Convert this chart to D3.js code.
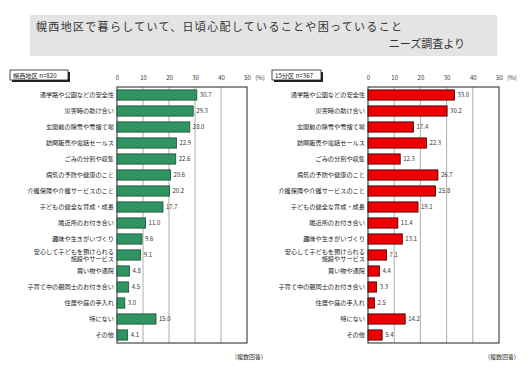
<!DOCTYPE html>
<html>
<head>
<meta charset="utf-8">
<script src="https://cdn.jsdelivr.net/npm/d3@7"></script>
<style>
  body { margin: 0; background: #fff; }
  svg text { font-family: "Noto Sans CJK JP", sans-serif; }
</style>
</head>
<body>
<div id="chart"></div>
<script>
// categories (same for both panels)
var categories = [
  '通学路や公園などの安全性',
  '災害時の助け合い',
  '玄関前の除雪や雪捨て場',
  '訪問販売や電話セールス',
  'ごみの分別や収集',
  '病気の予防や健康のこと',
  '介護保険や介護サービスのこと',
  '子どもの健全な育成・成長',
  '隣近所のお付き合い',
  '趣味や生きがいづくり',
  '安心して子どもを預けられる\n施設やサービス',
  '買い物や通院',
  '子育て中の親同士のお付き合い',
  '住居や庭の手入れ',
  '特にない',
  'その他'
];
var valuesArea = [30.7, 29.3, 28.0, 22.9, 22.6, 20.6, 20.2, 17.7, 11.0, 9.6, 9.1, 4.8, 4.5, 3.0, 15.0, 4.1];
var valuesWard = [33.0, 30.2, 17.4, 22.3, 12.3, 26.7, 25.8, 19.1, 11.4, 13.1, 7.1, 4.4, 3.3, 2.5, 14.2, 5.4];
var ticks = [0, 10, 20, 30, 40, 50];

var width = 530, height = 374;

var svg = d3.select('#chart').append('svg')
    .attr('width', width)
    .attr('height', height);

// title box
svg.append('rect')
    .attr('x', 30).attr('y', 15)
    .attr('width', 467).attr('height', 41)
    .attr('fill', '#e4e4e4');

svg.append('text')
    .attr('x', 36).attr('y', 31)
    .attr('font-size', 11)
    .attr('fill', '#333')
    .attr('textLength', 366)
    .attr('lengthAdjust', 'spacing')
    .text('幌西地区で暮らしていて、日頃心配していることや困っていること');

svg.append('text')
    .attr('x', 465).attr('y', 48)
    .attr('font-size', 11)
    .attr('fill', '#333')
    .attr('text-anchor', 'end')
    .text('ニーズ調査より');

function panel(opt) {
  var x = d3.scaleLinear().domain([0, 50]).range([opt.x0, opt.x1]);
  var y = d3.scaleBand().domain(d3.range(categories.length))
      .range([87, 343]).paddingInner(0.36).paddingOuter(0.18);

  var g = svg.append('g');

  // gridlines
  g.selectAll('.grid')
    .data([10, 20, 30, 40])
    .enter().append('line')
    .attr('x1', d => x(d)).attr('x2', d => x(d))
    .attr('y1', 87).attr('y2', 343)
    .attr('stroke', '#999').attr('stroke-width', 0.8);

  // frame
  g.append('rect')
    .attr('x', x(0)).attr('y', 87)
    .attr('width', x(50) - x(0)).attr('height', 256)
    .attr('fill', 'none').attr('stroke', '#222').attr('stroke-width', 1);

  // axis on top
  var axis = d3.axisTop(x).tickValues(ticks).tickSize(0).tickPadding(0);
  var ag = g.append('g').attr('transform', 'translate(0,80)').call(axis);
  ag.select('.domain').remove();
  ag.selectAll('text').attr('font-size', 6).attr('fill', '#333')
    .style('font-family', '"Noto Sans CJK JP", sans-serif');

  g.append('text')
    .attr('x', x(50) + 13).attr('y', 80)
    .attr('font-size', 6).attr('fill', '#333')
    .attr('text-anchor', 'middle')
    .text('(%)');

  // bars
  g.selectAll('.bar')
    .data(opt.values)
    .enter().append('rect')
    .attr('x', x(0))
    .attr('y', (d, i) => y(i))
    .attr('width', d => x(d) - x(0))
    .attr('height', y.bandwidth())
    .attr('fill', opt.fill)
    .attr('stroke', opt.stroke)
    .attr('stroke-width', 0.8);

  // value labels
  g.selectAll('.val')
    .data(opt.values)
    .enter().append('text')
    .attr('x', d => x(d) + 3)
    .attr('y', (d, i) => y(i) + y.bandwidth() / 2 + 2)
    .attr('font-size', 6).attr('fill', '#333')
    .text(d => d3.format('.1f')(d));

  // category labels
  var lab = g.selectAll('.cat')
    .data(categories)
    .enter().append('text')
    .attr('text-anchor', 'end')
    .attr('font-size', 6.2).attr('fill', '#222')
    .attr('y', (d, i) => y(i) + y.bandwidth() / 2 + 2);

  lab.each(function(d) {
    var lines = d.split('\n');
    var t = d3.select(this);
    lines.forEach(function(s, k) {
      t.append('tspan')
        .attr('x', opt.x0 - 3)
        .attr('dy', k === 0 ? (lines.length > 1 ? -3.5 : 0) : 7.5)
        .text(s);
    });
  });

  // panel label box with shadow
  svg.append('rect')
    .attr('x', opt.bx + 2).attr('y', 72)
    .attr('width', opt.bw).attr('height', 10)
    .attr('fill', '#222');
  svg.append('rect')
    .attr('x', opt.bx).attr('y', 70)
    .attr('width', opt.bw).attr('height', 10)
    .attr('fill', '#fff').attr('stroke', '#222').attr('stroke-width', 0.8);
  svg.append('text')
    .attr('x', opt.bx + 3).attr('y', 77.5)
    .attr('font-size', 6.2).attr('fill', '#222')
    .text(opt.label);

  // note
  svg.append('text')
    .attr('x', opt.noteX).attr('y', 359)
    .attr('font-size', 6).attr('fill', '#333')
    .attr('text-anchor', 'middle')
    .text('(複数回答)');
}

panel({
  x0: 117, x1: 247,
  values: valuesArea,
  fill: '#2f9461', stroke: '#1d4d33',
  bx: 10, bw: 58, label: '幌西地区  n=820',
  noteX: 249
});

panel({
  x0: 368, x1: 499,
  values: valuesWard,
  fill: '#ee0000', stroke: '#3a0000',
  bx: 272, bw: 49, label: '15分区  n=367',
  noteX: 502
});
</script>
</body>
</html>
